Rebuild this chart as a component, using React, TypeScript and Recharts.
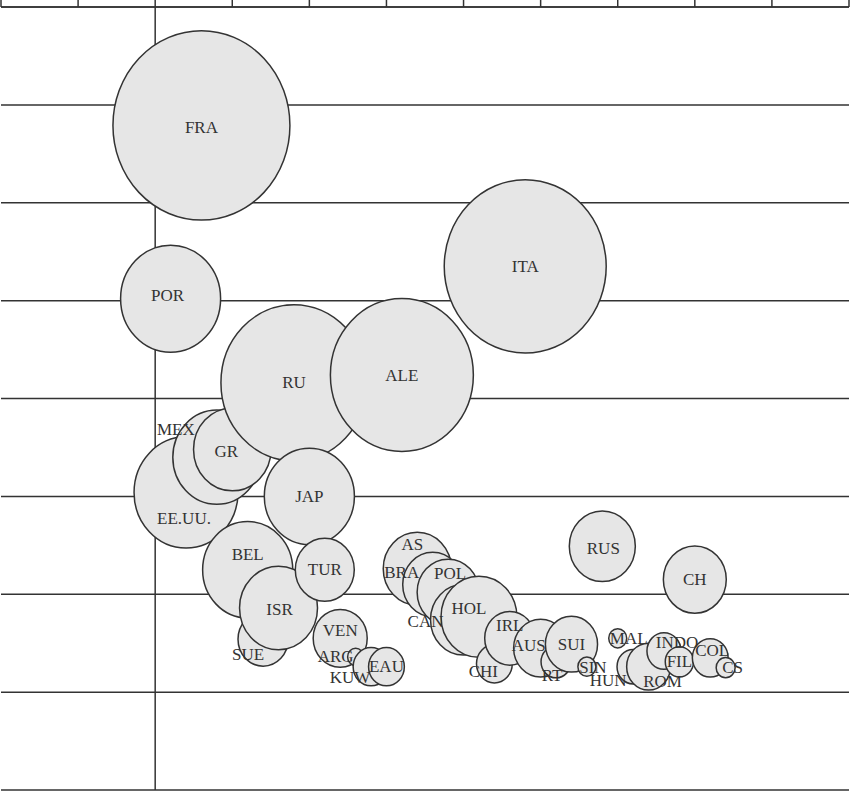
import { CartesianGrid, ReferenceLine, Scatter, ScatterChart, XAxis, YAxis, ZAxis } from "recharts"

const countries = [
  "EE.UU.", "POR", "FRA", "MEX", "GR", "BEL", "SUE", "ISR", "RU", "JAP",
  "TUR", "VEN", "ARG", "KUW", "EAU", "ALE", "AS", "BRA", "POL", "CAN",
  "HOL", "CHI", "IRL", "ITA", "AUS", "RT", "SUI", "SIN", "RUS", "MAL",
  "HUN", "ROM", "INDO", "FIL", "CH", "COL", "CS",
]
const xValues = [
  0.4, 0.2, 0.6, 0.8, 1.0, 1.2, 1.4, 1.6, 1.8, 2.0,
  2.2, 2.4, 2.6, 2.8, 3.0, 3.2, 3.4, 3.6, 3.8, 4.0,
  4.2, 4.4, 4.6, 4.8, 5.0, 5.2, 5.4, 5.6, 5.8, 6.0,
  6.2, 6.4, 6.6, 6.8, 7.0, 7.2, 7.4,
]
const yValues = [
  3.04, 5.02, 6.79, 3.4, 3.48, 2.25, 1.54, 1.86, 4.16, 3.0,
  2.25, 1.55, 1.36, 1.26, 1.26, 4.24, 2.26, 2.1, 2.02, 1.74,
  1.77, 1.29, 1.55, 5.35, 1.45, 1.31, 1.49, 1.26, 2.49, 1.55,
  1.26, 1.26, 1.42, 1.31, 2.15, 1.35, 1.25,
]
const sizes = [
  27, 25, 78.3, 19.4, 15, 20.3, 6.3, 15.2, 53.3, 20.3,
  8.7, 7.3, 0.64, 3.2, 3.2, 51.1, 11.6, 9, 9.6, 10.9,
  14.4, 3.2, 6.3, 65.6, 7.3, 2.25, 6.8, 0.81, 10.9, 0.81,
  2.6, 4.8, 2.9, 2.0, 9.9, 3.2, 0.9,
]
const xTicks = [-2, -1, 0, 1, 2, 3, 4, 5, 6, 7, 8, 9]
const yTicks = [0, 1, 2, 3, 4, 5, 6, 7, 8]

const data = countries.map((name, i) => ({ name, x: xValues[i], y: yValues[i], z: sizes[i] }))

// label nudges (px) for names placed off-centre
const labelShift: Record<string, [number, number]> = {
  FRA: [0, 2], POR: [-3, -3], MEX: [-41, -28], GR: [-6, 2], "EE.UU.": [-2, 26],
  BEL: [0, -15], SUE: [-15, 15], VEN: [0, -8], ARG: [-20, 0], KUW: [-21, 11],
  AS: [-5, -24], BRA: [-31, -12], POL: [2, -19], CAN: [-38, 2], HOL: [-10, -8],
  CHI: [-11, 8], IRL: [0, -13], AUS: [-12, -3], RT: [-4, 14], SIN: [6, 1],
  MAL: [11, 0], HUN: [-25, 14], ROM: [14, 15], INDO: [13, -9], COL: [2, -7],
  CS: [7, 0], RUS: [1, 2], ISR: [1, 2],
}

const ink = "#333333"

const Bubble = (props: any) => {
  const { cx, cy, width, size } = props
  const r = typeof width === "number" && width > 0 ? width / 2 : Math.sqrt((size || 0) / Math.PI)
  return <ellipse cx={cx} cy={cy} rx={r} ry={r * 1.07} fill="#e6e6e6" stroke={ink} strokeWidth={1.5} />
}

const Name = (props: any) => {
  const { cx, cy, payload } = props
  const [dx, dy] = labelShift[payload.name] || [0, 0]
  return (
    <text
      x={cx + dx}
      y={cy + dy}
      textAnchor="middle"
      dominantBaseline="central"
      fontFamily="'Liberation Serif', serif"
      fontSize={17}
      fill={ink}
    >
      {payload.name}
    </text>
  )
}

export default function App() {
  return (
    <div style={{ position: "absolute", left: 0, top: 0, background: "#fff" }}>
      <ScatterChart width={850} height={791} margin={{ top: 0, right: 1, bottom: 1, left: 1 }}>
        <CartesianGrid vertical={false} stroke={ink} strokeWidth={1.5} />
        <XAxis
          type="number"
          dataKey="x"
          orientation="top"
          domain={[-2, 9]}
          ticks={xTicks}
          height={7}
          tickSize={7}
          tickFormatter={() => ""}
          stroke={ink}
          strokeWidth={1.5}
          allowDataOverflow
        />
        <YAxis type="number" dataKey="y" domain={[0, 8]} ticks={yTicks} hide width={0} />
        <ZAxis type="number" dataKey="z" domain={[0, 100]} range={[0, 10000 * Math.PI]} />
        <ReferenceLine x={0} stroke={ink} strokeWidth={1.5} />
        <Scatter data={data} shape={<Bubble />} isAnimationActive={false} />
        <Scatter data={data} shape={<Name />} isAnimationActive={false} />
      </ScatterChart>
    </div>
  )
}
